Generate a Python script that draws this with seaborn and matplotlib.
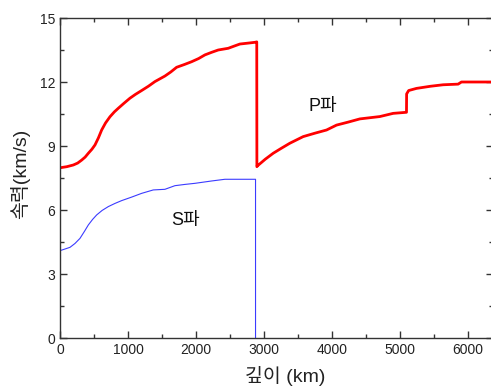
import matplotlib
matplotlib.use("Agg")
import matplotlib.pyplot as plt
import seaborn as sns
import pandas as pd
from matplotlib.ticker import MultipleLocator

sns.set_theme(style="white")
plt.rcParams['font.family'] = ['Liberation Sans', 'Noto Sans CJK KR', 'DejaVu Sans']

# P-wave velocity (km/s) vs depth (km)
p_depth = [0, 100, 196, 260, 319, 370, 417, 470, 515, 565, 613, 670, 735, 800, 858, 940, 1029, 1110,
           1201, 1300, 1397, 1544, 1630, 1716, 1830, 1936, 2040, 2132, 2230, 2328, 2475, 2560, 2647,
           2760, 2868, 2895,
           2897, 2902, 3020, 3137, 3260, 3382, 3578, 3750, 3922, 4069, 4240, 4412, 4706, 4902, 5098,
           5100, 5130, 5245, 5450, 5637, 5858, 5907, 6100, 6371]
p_vel = [7.98, 8.03, 8.11, 8.2, 8.34, 8.48, 8.66, 8.85, 9.05, 9.38, 9.75, 10.08, 10.37, 10.6, 10.77, 11.0, 11.24, 11.42,
         11.6, 11.8, 12.02, 12.28, 12.47, 12.69, 12.82, 12.95, 13.1, 13.27, 13.39, 13.5, 13.58, 13.68, 13.78,
         13.82, 13.86, 13.88,
         8.03, 8.06, 8.38, 8.66, 8.9, 9.13, 9.44, 9.6, 9.75, 9.98, 10.12, 10.27, 10.38, 10.53, 10.58,
         11.44, 11.6, 11.7, 11.8, 11.87, 11.9, 12.0, 12.0, 12.0]

# S-wave velocity (km/s) vs depth (km)
s_depth = [0, 25, 147, 220, 294, 360, 417, 480, 540, 620, 711, 810, 907, 1050, 1201, 1372, 1544, 1691,
           1840, 1985, 2230, 2426, 2600, 2877, 2877]
s_vel = [4.1, 4.12, 4.25, 4.43, 4.67, 5.0, 5.3, 5.56, 5.77, 5.98, 6.16, 6.31, 6.44, 6.6, 6.78, 6.94, 6.97, 7.14,
         7.2, 7.25, 7.36, 7.44, 7.44, 7.44, 0.0]

x_ticks = [0, 1000, 2000, 3000, 4000, 5000, 6000]
y_ticks = [0, 3, 6, 9, 12, 15]

dfp = pd.DataFrame({"depth": p_depth, "vel": p_vel})
dfs = pd.DataFrame({"depth": s_depth, "vel": s_vel})

fig = plt.figure(figsize=(4.91, 3.92), dpi=100)
ax = fig.add_axes([60/491, 54/392, 433/491, 320/392])

sns.lineplot(data=dfp, x="depth", y="vel", sort=False, estimator=None, color="#ff0000",
             linewidth=2.0, ax=ax)
sns.lineplot(data=dfs, x="depth", y="vel", sort=False, estimator=None, color="#3b3bff",
             linewidth=0.8, ax=ax)

ax.set_xlim(0, 6371)
ax.set_ylim(0, 15)
ax.set_xticks(x_ticks)
ax.set_yticks(y_ticks)
ax.xaxis.set_minor_locator(MultipleLocator(500))
ax.yaxis.set_minor_locator(MultipleLocator(1.5))
ax.tick_params(which="both", direction="in", top=True, right=True, bottom=True, left=True,
               colors="#333333", labelcolor="#222222", labelsize=10)
ax.tick_params(which="major", length=5, width=1)
ax.tick_params(which="minor", length=3, width=1)
for s in ax.spines.values():
    s.set_color("#333333")
    s.set_linewidth(1.0)

ax.set_xlabel("깊이 (km)", fontsize=14, color="#222222")
ax.set_ylabel("속력(km/s)", fontsize=14, color="#222222")
ax.xaxis.set_label_coords((285 - 60) / 433, (338 - 366) / 320)
ax.yaxis.set_label_coords((30 - 60) / 433, (338 - 174) / 320)

ax.text(3868, 10.85, "P파", fontsize=13, color="#111111", ha="center", va="center")
ax.text(1840, 5.51, "S파", fontsize=13, color="#111111", ha="center", va="center")

fig.savefig("out.png", dpi=100)
